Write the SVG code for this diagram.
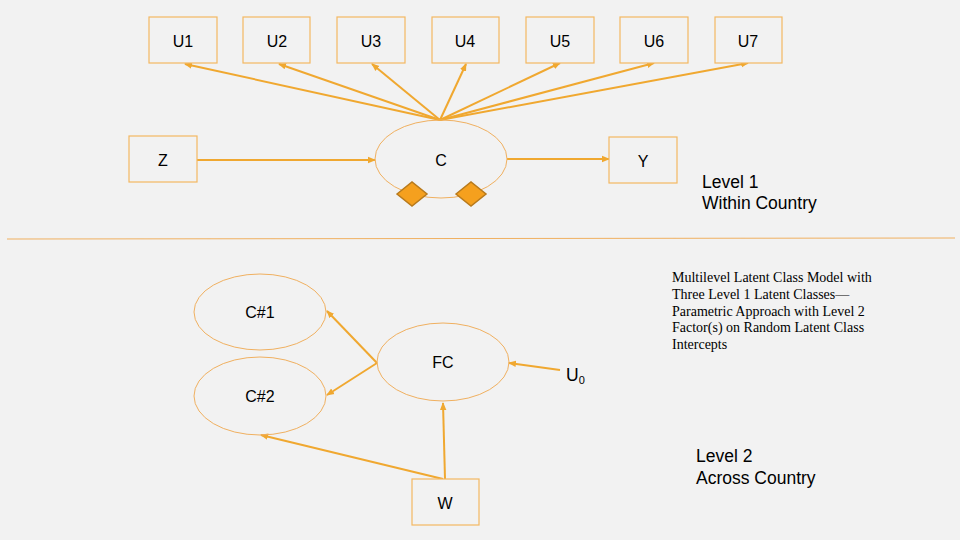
<svg xmlns="http://www.w3.org/2000/svg" width="960" height="540" viewBox="0 0 960 540">
<defs>
<marker id="ah" markerWidth="8" markerHeight="8" refX="7" refY="4" orient="auto" markerUnits="userSpaceOnUse">
<path d="M0,0.8 L8,4 L0,7.2 Z" fill="#f0a830"/>
</marker>
<style>
.box{fill:#f2f2f2;stroke:#f3b862;stroke-width:1.2}
.ell{fill:none;stroke:#f0b060;stroke-width:1}
.lbl{font-family:"Liberation Sans",Arial,sans-serif;font-size:16px;fill:#000;text-anchor:middle}
.txt{font-family:"Liberation Sans",Arial,sans-serif;font-size:17.5px;fill:#000}
.ser{font-family:"Liberation Serif","Times New Roman",serif;font-size:14px;fill:#000}
.con{stroke:#f0a830;stroke-width:2;fill:none;marker-end:url(#ah)}
.dia{fill:#f5a01e;stroke:#b87a1c;stroke-width:1.5}
</style>
</defs>
<rect width="960" height="540" fill="#f2f2f2"/>
<line x1="7" y1="239" x2="955" y2="238" stroke="#f0b060" stroke-width="1"/>
<g id="connectors">
<line class="con" x1="440" y1="120" x2="185" y2="64"/>
<line class="con" x1="440" y1="120" x2="279" y2="64"/>
<line class="con" x1="440" y1="120" x2="372" y2="64"/>
<line class="con" x1="440" y1="120" x2="466" y2="64"/>
<line class="con" x1="440" y1="120" x2="560" y2="63"/>
<line class="con" x1="440" y1="120" x2="654" y2="63"/>
<line class="con" x1="440" y1="120" x2="748" y2="63"/>
<line class="con" x1="197" y1="160" x2="375" y2="160"/>
<line class="con" x1="507" y1="159" x2="609" y2="159"/>
<line class="con" x1="377" y1="363" x2="327" y2="311"/>
<line class="con" x1="377" y1="363" x2="327" y2="395"/>
<line class="con" x1="560" y1="370" x2="509" y2="363"/>
<line class="con" x1="445" y1="479" x2="443" y2="403"/>
<line class="con" x1="443" y1="479" x2="261" y2="435"/>
</g>
<g id="U1"><rect class="box" x="149" y="17" width="68" height="46"/><text class="lbl" x="183" y="47">U1</text></g>
<g id="U2"><rect class="box" x="243" y="17" width="67" height="46"/><text class="lbl" x="277" y="47">U2</text></g>
<g id="U3"><rect class="box" x="337" y="17" width="68" height="46"/><text class="lbl" x="371" y="47">U3</text></g>
<g id="U4"><rect class="box" x="432" y="17" width="67" height="46"/><text class="lbl" x="465" y="47">U4</text></g>
<g id="U5"><rect class="box" x="526" y="17" width="68" height="46"/><text class="lbl" x="560" y="47">U5</text></g>
<g id="U6"><rect class="box" x="620" y="17" width="68" height="46"/><text class="lbl" x="654" y="47">U6</text></g>
<g id="U7"><rect class="box" x="715" y="17" width="67" height="46"/><text class="lbl" x="748" y="47">U7</text></g>
<g id="Z"><rect class="box" x="129" y="136" width="68" height="46"/><text class="lbl" x="163" y="166">Z</text></g>
<g id="Y"><rect class="box" x="609" y="137" width="68" height="46"/><text class="lbl" x="643" y="167">Y</text></g>
<g id="C"><ellipse class="ell" cx="441" cy="159" rx="66" ry="39"/><text class="lbl" x="441" y="166">C</text>
<path class="dia" d="M397,194 L412,182 L427,194 L412,206 Z"/>
<path class="dia" d="M456,194 L471,182 L486,194 L471,206 Z"/></g>
<g id="level1"><text class="txt" x="702" y="188">Level 1</text><text class="txt" x="702" y="209">Within Country</text></g>
<g id="title"><text class="ser"><tspan x="672" y="282">Multilevel Latent Class Model with</tspan><tspan x="672" y="299">Three Level 1 Latent Classes—</tspan><tspan x="672" y="316">Parametric Approach with Level 2</tspan><tspan x="672" y="332">Factor(s) on Random Latent Class</tspan><tspan x="672" y="349">Intercepts</tspan></text></g>
<g id="C1"><ellipse class="ell" cx="260" cy="312" rx="66" ry="38"/><text class="lbl" x="260" y="318">C#1</text></g>
<g id="C2"><ellipse class="ell" cx="260" cy="396" rx="66" ry="39"/><text class="lbl" x="260" y="402">C#2</text></g>
<g id="FC"><ellipse class="ell" cx="443" cy="362" rx="66" ry="39"/><text class="lbl" x="443" y="368">FC</text></g>
<g id="U0"><text class="txt" font-size="16" x="566" y="381">U<tspan font-size="11" dy="3">0</tspan></text></g>
<g id="W"><rect class="box" x="412" y="479" width="67" height="46"/><text class="lbl" x="445" y="509">W</text></g>
<g id="level2"><text class="txt" x="696" y="462">Level 2</text><text class="txt" x="696" y="484">Across Country</text></g>
</svg>
